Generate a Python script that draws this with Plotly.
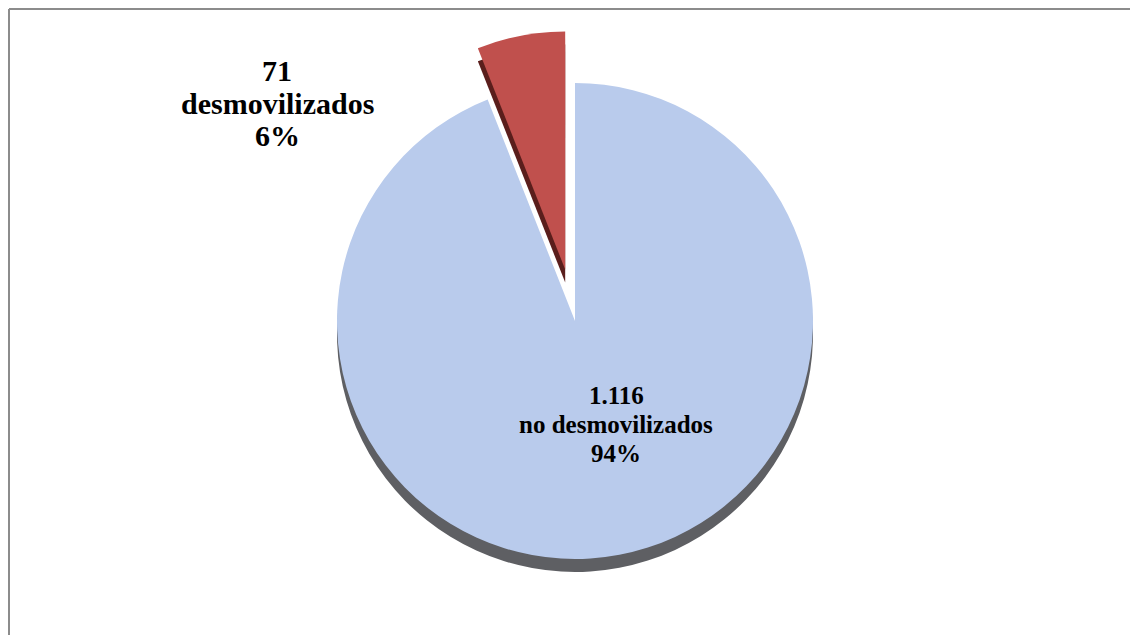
import plotly.graph_objects as go

# Data
labels = ["no desmovilizados", "desmovilizados"]
values = [1116, 71]
colors = ["#B9CBEC", "#C0504D"]
side_colors = ["#5E5F63", "#5A1E1C"]
pulls = [0, 0.22]

W, H = 1130, 635
total = sum(values)


def fmt_num(v):
    return f"{v:,}".replace(",", ".")


def px_x(x):
    return x / W


def px_y(y):
    return 1 - y / H


# pie geometry (pixels)
cx, cy = 575, 321
radius = 238
half = radius * (1 + max(pulls))
depth = 13

fig = go.Figure()

# 3D side (depth) trace
fig.add_trace(go.Pie(
    labels=labels, values=values, sort=False, direction="clockwise", rotation=0,
    pull=pulls, marker=dict(colors=side_colors), textinfo="none", hoverinfo="skip",
    showlegend=False,
    domain=dict(x=[px_x(cx - half), px_x(cx + half)],
                y=[px_y(cy + depth + half), px_y(cy + depth - half)]),
))

# top face
fig.add_trace(go.Pie(
    labels=labels, values=values, sort=False, direction="clockwise", rotation=0,
    pull=pulls, marker=dict(colors=colors), textinfo="none",
    showlegend=False,
    domain=dict(x=[px_x(cx - half), px_x(cx + half)],
                y=[px_y(cy + half), px_y(cy - half)]),
))

font_family = "Liberation Serif, Times New Roman, serif"

# labels: (center x, [line y centers], font size)
label_pos = [
    (616, [395, 424, 453], 25),
    (277, [71, 103, 135], 30),
]

annotations = []
for i, (lx, ys, fs) in enumerate(label_pos):
    pct = round(values[i] / total * 100)
    lines = [fmt_num(values[i]), labels[i], f"{pct}%"]
    for text, y in zip(lines, ys):
        annotations.append(dict(
            x=px_x(lx), y=px_y(y), xref="paper", yref="paper",
            text=f"<b>{text}</b>", showarrow=False,
            xanchor="center", yanchor="middle",
            font=dict(family=font_family, size=fs, color="#000000"),
        ))

frame = dict(color="#8C8C8C", width=2)
fig.update_layout(
    width=W, height=H,
    margin=dict(l=0, r=0, t=0, b=0),
    paper_bgcolor="white", plot_bgcolor="white",
    annotations=annotations,
    shapes=[
        dict(type="line", xref="paper", yref="paper",
             x0=px_x(9), x1=1.0, y0=px_y(9), y1=px_y(9), line=frame),
        dict(type="line", xref="paper", yref="paper",
             x0=px_x(9), x1=px_x(9), y0=0.0, y1=px_y(9), line=frame),
    ],
)

fig.write_html("out.html")
